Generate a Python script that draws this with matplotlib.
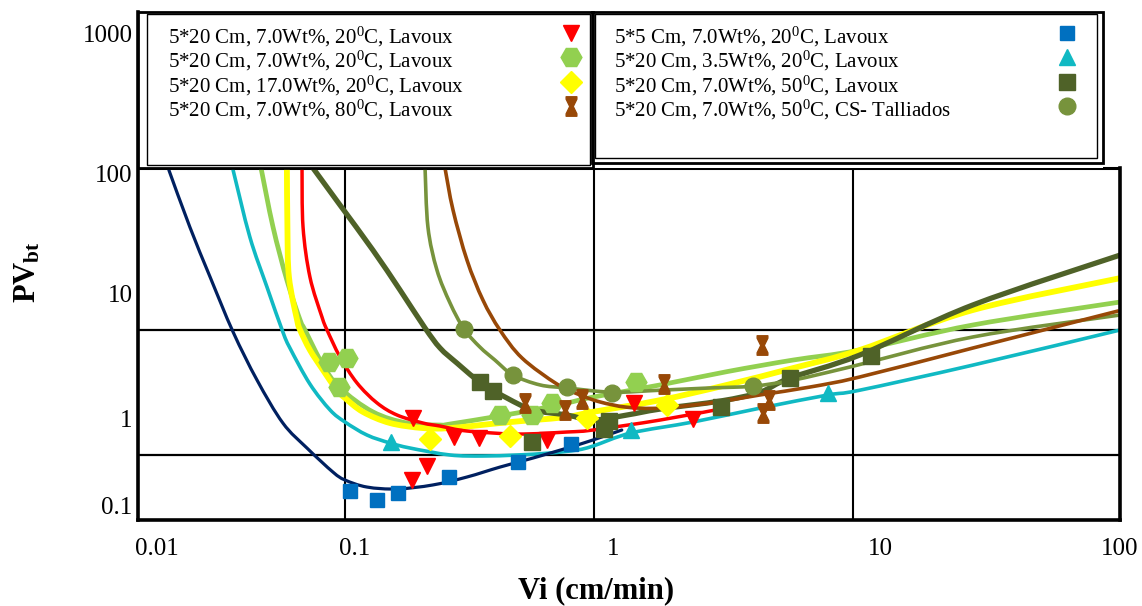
import numpy as np
import matplotlib
matplotlib.use('Agg')
import matplotlib.pyplot as plt
from matplotlib.path import Path
from matplotlib.lines import Line2D
from matplotlib.patches import Rectangle, PathPatch
from matplotlib.transforms import ScaledTranslation


# ---- measured points (Vi in cm/min, PVbt) ----

# 5*5 Cm, 7.0Wt%, 20C, Lavoux
vi_a = [0.105, 0.135, 0.163, 0.262, 0.496, 0.809]
pv_a = [0.145, 0.114, 0.137, 0.210, 0.312, 0.503]

# 5*20 Cm, 3.5Wt%, 20C, Lavoux
vi_b = [0.153, 1.39, 8.01]
pv_b = [0.530, 0.728, 1.585]

# 5*20 Cm, 7.0Wt%, 50C, Lavoux
vi_c = [0.348, 0.393, 0.564, 1.093, 1.143, 3.09, 5.71, 11.7]
pv_c = [1.94, 1.64, 0.530, 0.747, 0.924, 1.22, 2.09, 3.13]

# 5*20 Cm, 7.0Wt%, 50C, CS- Talliados
vi_d = [0.301, 0.473, 0.78, 1.174, 4.11]
pv_d = [5.15, 2.21, 1.77, 1.585, 1.80]

# 5*20 Cm, 7.0Wt%, 20C, Lavoux (first set)
vi_e = [0.186, 0.188, 0.213, 0.274, 0.345, 0.647, 1.427, 2.41]
pv_e = [0.194, 1.0, 0.281, 0.605, 0.589, 0.559, 1.32, 0.974]

# 5*20 Cm, 7.0Wt%, 20C, Lavoux (second set)
vi_f = [0.0837, 0.0936, 0.102, 0.419, 0.564, 0.678, 1.453]
pv_f = [2.81, 1.77, 3.02, 1.057, 1.057, 1.32, 1.94]

# 5*20 Cm, 17.0Wt%, 20C, Lavoux
vi_g = [0.219, 0.460, 0.938, 1.914]
pv_g = [0.574, 0.621, 1.0, 1.27]

# 5*20 Cm, 7.0Wt%, 80C, Lavoux
vi_h = [0.528, 0.766, 0.895, 1.863, 4.45, 4.74, 4.49]
pv_h = [1.32, 1.16, 1.42, 1.87, 3.84, 1.39, 1.10]

# ---- fitted curves ----
fit_a_vi = [0.0141, 0.0178, 0.0223, 0.0288, 0.0376, 0.0501, 0.0655, 0.0875, 0.1,
            0.1225, 0.162, 0.225, 0.309, 0.419, 0.569, 0.78, 0.99, 1.28]
fit_a_pv = [105, 35.5, 13.6, 4.88, 2.01, 0.876, 0.452, 0.239, 0.194,
            0.161, 0.153, 0.170, 0.210, 0.273, 0.347, 0.452, 0.559, 0.728]

fit_b_vi = [0.0288, 0.0347, 0.042, 0.0501, 0.0542, 0.0677, 0.0847, 0.1, 0.1225, 0.1517,
            0.1825, 0.264, 0.358, 0.491, 0.665, 0.855, 0.99, 1.39, 2.41, 4.375,
            8.01, 10.6, 28.1, 100]
fit_b_pv = [105, 29.3, 11.2, 4.88, 3.63, 1.87, 1.16, 0.90, 0.638, 0.516,
            0.452, 0.376, 0.366, 0.376, 0.396, 0.429, 0.476, 0.673, 0.90, 1.20,
            1.53, 1.67, 2.65, 5.06]

fit_c_vi = [0.070, 0.0946, 0.1294, 0.1663, 0.2096, 0.2409, 0.2817, 0.348, 0.447, 0.569,
            0.78, 0.99, 1.34, 1.80, 3.09, 4.375, 5.71, 10.6, 28.1, 100]
fit_c_pv = [108.6, 54.1, 22.8, 10.6, 5.25, 3.63, 2.75, 1.94, 1.445, 1.16,
            1.057, 0.948, 1.057, 1.18, 1.37, 1.61, 2.09, 3.19, 8.02, 20.7]

fit_d_vi = [0.2096, 0.2153, 0.2339, 0.2641, 0.3006, 0.348, 0.40, 0.473, 0.607, 0.78,
            1.174, 1.80, 2.805, 4.11, 5.87, 9.73, 28.1, 100]
fit_d_pv = [110, 35.5, 15.6, 8.32, 5.15, 3.70, 2.91, 2.21, 1.84, 1.74,
            1.61, 1.67, 1.74, 1.80, 2.01, 2.56, 4.45, 6.67]

fit_e_vi = [0.062, 0.0627, 0.0677, 0.0774, 0.0819, 0.0946, 0.1117, 0.1345, 0.1618, 0.2056,
            0.2409, 0.309, 0.491, 0.78, 0.99, 1.80, 3.205]
fit_e_pv = [108.6, 35.5, 13.6, 6.43, 5.06, 3.08, 1.91, 1.32, 1.057, 0.876,
            0.809, 0.709, 0.655, 0.691, 0.728, 0.948, 1.20]

fit_f_vi = [0.0393, 0.0449, 0.0524, 0.0607, 0.0641, 0.0783, 0.0946, 0.1294, 0.1774, 0.2409,
            0.264, 0.419, 0.569, 0.78, 0.99, 1.80, 3.26, 5.87, 10.6, 28.1, 100]
fit_f_pv = [108.6, 35.5, 12.8, 6.08, 5.06, 2.65, 1.74, 1.12, 0.876, 0.831,
            0.853, 1.04, 1.16, 1.32, 1.47, 1.84, 2.35, 2.91, 3.50, 5.55, 8.47]

fit_g_vi = [0.0524, 0.0527, 0.0536, 0.0587, 0.0607, 0.0677, 0.0783, 0.0915, 0.1, 0.118,
            0.1517, 0.2056, 0.264, 0.419, 0.569, 0.78, 0.99, 1.80, 3.26, 5.87,
            10.6, 28.1, 100]
fit_g_pv = [108.6, 35.5, 13.6, 6.08, 5.06, 3.50, 2.42, 1.67, 1.445, 1.12,
            0.876, 0.767, 0.767, 0.876, 0.948, 1.02, 1.12, 1.39, 1.84, 2.51,
            3.50, 7.31, 13.3]

fit_h_vi = [0.2521, 0.2715, 0.309, 0.358, 0.419, 0.514, 0.71, 0.879, 1.055, 1.34,
            1.80, 2.805, 4.375, 6.82, 10.6, 28.1, 98.3]
fit_h_pv = [108.6, 49.2, 18.8, 8.79, 5.06, 3.02, 1.87, 1.53, 1.345, 1.22,
            1.20, 1.32, 1.53, 1.77, 2.13, 3.63, 7.18]

labels = ['5*20 Cm, 7.0Wt%, 20$^0$C, Lavoux',
          '5*20 Cm, 7.0Wt%, 20$^0$C, Lavoux',
          '5*20 Cm, 17.0Wt%, 20$^0$C, Lavoux',
          '5*20 Cm, 7.0Wt%, 80$^0$C, Lavoux',
          '5*5 Cm, 7.0Wt%, 20$^0$C, Lavoux',
          '5*20 Cm, 3.5Wt%, 20$^0$C, Lavoux',
          '5*20 Cm, 7.0Wt%, 50$^0$C, Lavoux',
          '5*20 Cm, 7.0Wt%, 50$^0$C, CS- Talliados']

x_ticks = [0.01, 0.1, 1, 10, 100]
x_ticklabels = ['0.01', '0.1', '1', '10', '100']
y_ticks = [0.1, 1, 10, 100, 1000]
y_ticklabels = ['0.1', '1', '10', '100', '1000']


def log_axis(first_decade, lengths):
    """Log axis whose decades have unequal lengths."""
    decs = first_decade + np.arange(len(lengths) + 1, dtype=float)
    pos = np.concatenate([[0.0], np.cumsum(lengths, dtype=float)])
    decs = np.concatenate([[decs[0] - 20], decs, [decs[-1] + 20]])
    pos = np.concatenate([[pos[0] - 20 * lengths[0]], pos, [pos[-1] + 20 * lengths[-1]]])

    def forward(v):
        v = np.asarray(v, dtype=float)
        with np.errstate(divide='ignore', invalid='ignore'):
            lv = np.log10(np.clip(v, 1e-30, None))
        return np.interp(lv, decs, pos)

    def inverse(p):
        return 10.0 ** np.interp(p, pos, decs)

    return forward, inverse


x_fwd, x_inv = log_axis(-2, [207, 249, 259, 267])
y_fwd, y_inv = log_axis(-1, [87, 125, 120, 140])


def smooth_line(ax, xs, ys, color, lw):
    # smoothed line (catmull-rom as bezier segments) in scale space
    pts = np.column_stack([x_fwd(xs), y_fwd(ys)])
    n = len(pts)
    verts = [pts[0]]
    codes = [Path.MOVETO]
    for i in range(n - 1):
        p0 = pts[max(i - 1, 0)]
        p1 = pts[i]
        p2 = pts[i + 1]
        p3 = pts[min(i + 2, n - 1)]
        verts += [p1 + (p2 - p0) / 6, p2 - (p3 - p1) / 6, p2]
        codes += [Path.CURVE4] * 3
    verts = np.array(verts)
    data = np.column_stack([x_inv(verts[:, 0]), y_inv(verts[:, 1])])
    ax.add_patch(PathPatch(Path(data, codes), fill=False, edgecolor=color, lw=lw,
                           capstyle='round', joinstyle='round', zorder=2))


# hourglass marker
hourglass = Path([(-0.55, 1), (0.55, 1), (0.55, 0.75), (0.18, 0), (0.55, -0.75),
                  (0.55, -1), (-0.55, -1), (-0.55, -0.75), (-0.18, 0), (-0.55, 0.75),
                  (-0.55, 1)], closed=True)

NAVY = '#002060'
BLUE = '#0070C0'
CYAN = '#10B9C3'
DKOLIVE = '#4F6228'
OLIVE = '#77933C'
RED = '#FF0000'
LTGREEN = '#92D050'
YELLOW = '#FFFF00'
BROWN = '#984807'

plt.rcParams['font.family'] = 'Liberation Serif'
plt.rcParams['mathtext.fontset'] = 'custom'
plt.rcParams['mathtext.rm'] = 'Liberation Serif'
plt.rcParams['mathtext.it'] = 'Liberation Serif:italic'
plt.rcParams['mathtext.bf'] = 'Liberation Serif:bold'

W, H = 1142, 606
fig = plt.figure(figsize=(W / 100, H / 100), dpi=100)
ax = fig.add_axes([138 / W, 1 - 520 / H, 982 / W, 508 / H])

ax.set_xscale('function', functions=(x_fwd, x_inv))
ax.set_yscale('function', functions=(y_fwd, y_inv))
ax.set_xlim(0.01, 100)
ax.set_ylim(0.0673, 1413)

# grid
for gx in [0.1, 1, 10]:
    ax.axvline(gx, color='black', lw=1.5, zorder=1)
for gy in [5.06, 0.38]:
    ax.axhline(gy, color='black', lw=1.6, zorder=1)
ax.axhline(108, color='black', lw=2.2, zorder=1)

# fitted curves
smooth_line(ax, fit_f_vi, fit_f_pv, LTGREEN, 3.4)
smooth_line(ax, fit_g_vi, fit_g_pv, YELLOW, 4.2)
smooth_line(ax, fit_e_vi, fit_e_pv, RED, 2.5)
smooth_line(ax, fit_b_vi, fit_b_pv, CYAN, 2.6)
smooth_line(ax, fit_a_vi, fit_a_pv, NAVY, 2.3)
smooth_line(ax, fit_c_vi, fit_c_pv, DKOLIVE, 3.8)
smooth_line(ax, fit_d_vi, fit_d_pv, OLIVE, 2.6)
smooth_line(ax, fit_h_vi, fit_h_pv, BROWN, 2.6)

# measured points
styles = [
    (vi_e, pv_e, 'v', RED, 12),
    (vi_f, pv_f, 'H', LTGREEN, 15),
    (vi_g, pv_g, 'D', YELLOW, 11),
    (vi_h, pv_h, hourglass, BROWN, 14),
    (vi_a, pv_a, 's', BLUE, 10),
    (vi_b, pv_b, '^', CYAN, 12),
    (vi_c, pv_c, 's', DKOLIVE, 11),
    (vi_d, pv_d, 'o', OLIVE, 12),
]
for vi, pv, mk, col, ms in styles:
    ax.plot(vi, pv, ls='none', marker=mk, color=col, ms=ms, mec=col, mew=1, zorder=3)

ax.set_xticks(x_ticks)
ax.set_xticklabels(x_ticklabels)
ax.set_yticks(y_ticks)
ax.set_yticklabels(y_ticklabels)
ax.minorticks_off()
ax.tick_params(axis='x', length=0, pad=13, labelsize=18)
ax.tick_params(axis='y', length=0, pad=4, labelsize=18)

# x tick labels sit a little right of their grid lines
for lab, dx in zip(ax.get_xticklabels(), [19, 10, 19, 27, 0]):
    lab.set_transform(lab.get_transform() + ScaledTranslation(dx / 100, 0, fig.dpi_scale_trans))

for side in ['left', 'bottom', 'right']:
    ax.spines[side].set_linewidth(2.6)
ax.spines['top'].set_visible(False)
ax.spines['right'].set_bounds(0.0673, 108)

fig.text(596 / W, 1 - 591 / H, 'Vi (cm/min)', ha='center', va='center',
         fontsize=22, fontweight='bold')
fig.text(28 / W, 1 - 272 / H, r'$\mathbf{PV_{bt}}$', ha='center', va='center',
         fontsize=22, rotation=90)


# legend boxes
def box(x0, y0, x1, y1, lw):
    fig.add_artist(Rectangle((x0 / W, 1 - y1 / H), (x1 - x0) / W, (y1 - y0) / H,
                             transform=fig.transFigure, facecolor='none',
                             edgecolor='black', lw=lw, zorder=5))


fig.add_artist(Rectangle((138 / W, 1 - 168 / H), (1103 - 138) / W, (168 - 12) / H,
                         transform=fig.transFigure, facecolor='white',
                         edgecolor='none', zorder=4))
box(138, 12, 593, 168, 2.0)
box(147, 14, 590, 165, 1.0)
box(592, 12, 1103, 163, 2.0)
box(595, 14, 1097, 158, 1.0)

rows_y = [37, 61, 86, 110]
for i, (vi, pv, mk, col, ms) in enumerate(styles):
    if i < 4:
        tx, mx = 168, 571
    else:
        tx, mx = 614, 1067
    ty = rows_y[i % 4]
    fig.text(tx / W, 1 - ty / H, labels[i], ha='left', va='center',
             fontsize=15, zorder=6)
    fig.add_artist(Line2D([mx / W], [1 - (ty - 4) / H], transform=fig.transFigure,
                          ls='none', marker=mk, color=col, mec=col, ms=ms, zorder=6))

fig.savefig('out.png', dpi=100)
